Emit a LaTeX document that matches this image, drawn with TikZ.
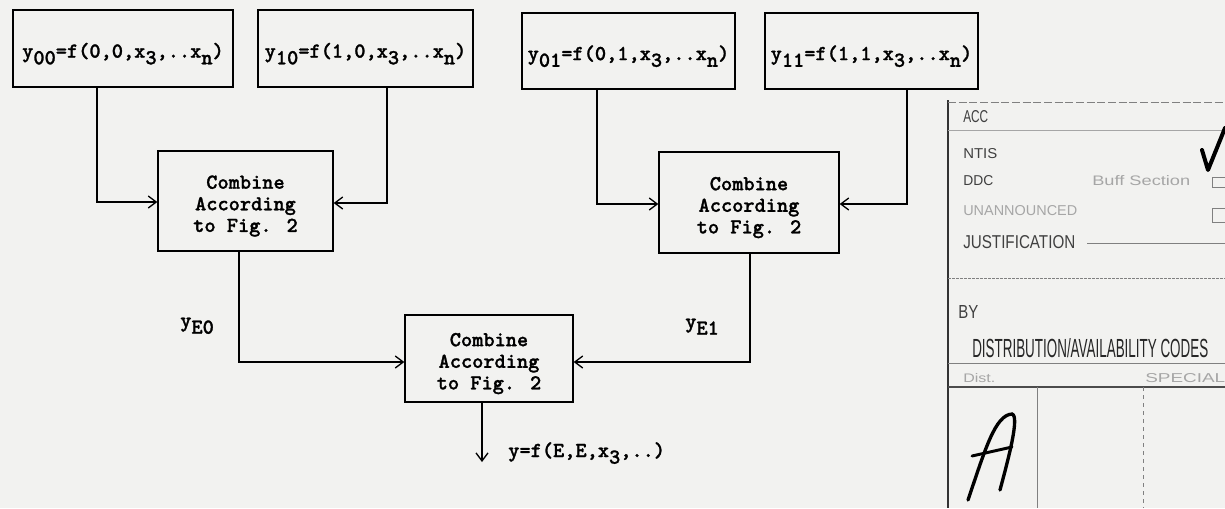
\documentclass[tikz,border=0pt]{standalone}
\usepackage{fontspec}
\usetikzlibrary{arrows.meta,calc}
\setsansfont{Liberation Sans}
\newfontfamily\tw{lmmonolt10-bold.otf}[FakeBold=1.2]
\definecolor{paper}{RGB}{242,242,240}
\newcommand\lo[1]{\raisebox{-5pt}{#1}}
\newcommand\dn[1]{\raisebox{-3.75pt}[\height][\depth]{\begin{tabular}{@{}c@{}}#1\end{tabular}}}
\begin{document}
\begin{tikzpicture}[x=0.75pt,y=-0.75pt,
  box/.style={draw,line width=1pt,inner sep=0pt,align=center,font=\tw\fontsize{16}{16.2}\selectfont},
  lbl/.style={inner sep=0pt,anchor=base west,font=\tw\fontsize{16}{16.2}\selectfont},
  conn/.style={line width=1pt},
  arr/.style={conn,-{Straight Barb[length=6pt,width=9pt,line width=1pt]}},
  stamp/.style={line width=0.7pt,draw=black!50},
  st/.style={inner sep=0pt,anchor=base west,text=black!75,font=\sffamily},
  stf/.style={st,text=black!35}]
\fill[paper] (0,0) rectangle (1225,508);
\useasboundingbox (0,0) rectangle (1225,508);

% input boxes
\node[box,minimum width=165pt,minimum height=57.75pt] (b1) at (123,48.5) {\dn{y\lo{00}=f(0,0,x\lo{3},..x\lo{n})}};
\node[box,minimum width=161.25pt,minimum height=57.75pt] (b2) at (365.5,48.5) {\dn{y\lo{10}=f(1,0,x\lo{3},..x\lo{n})}};
\node[box,minimum width=159.75pt,minimum height=57pt] (b3) at (628.5,51) {\dn{y\lo{01}=f(0,1,x\lo{3},..x\lo{n})}};
\node[box,minimum width=159.75pt,minimum height=57pt] (b4) at (871.5,51) {\dn{y\lo{11}=f(1,1,x\lo{3},..x\lo{n})}};

% combine boxes
\node[box,minimum width=131.25pt,minimum height=75pt] (c1) at (245.5,201) {\dn{Combine\\According\\to Fig. 2}};
\node[box,minimum width=135pt,minimum height=75.75pt] (c2) at (749,202.5) {\dn{Combine\\According\\to Fig. 2}};
\node[box,minimum width=126pt,minimum height=65.25pt] (c3) at (489,358.5) {\dn{Combine\\According\\to Fig. 2}};

% connectors
\coordinate (k1) at (97,202);
\coordinate (k2) at (387,203);
\coordinate (k3) at (597,204);
\coordinate (k4) at (907,204);
\coordinate (k5) at (239,362);
\coordinate (k6) at (750,362);
\coordinate (k7) at (482,462);
\draw[arr] (b1.south -| k1) -- (k1) -- (k1 -| c1.west);
\draw[arr] (b2.south -| k2) -- (k2) -- (k2 -| c1.east);
\draw[arr] (b3.south -| k3) -- (k3) -- (k3 -| c2.west);
\draw[arr] (b4.south -| k4) -- (k4) -- (k4 -| c2.east);
\draw[arr] (c1.south -| k5) -- (k5) -- (k5 -| c3.west);
\draw[arr] (c2.south -| k6) -- (k6) -- (k6 -| c3.east);
\draw[arr] (c3.south -| k7) -- (k7);

% labels
\node[lbl] (le0) at (180,327) {y\lo{E0}};
\node[lbl] (le1) at (685,328) {y\lo{E1}};
\node[lbl] (lout) at (508,457) {y=f(E,E,x\lo{3},..)};

% accession stamp
\draw[line width=1.2pt,black!80] (948,100) -- (948,508);
\draw[stamp,dash pattern=on 6pt off 2pt] (948,102) -- (1225,102);
\draw[stamp,draw=black!35] (948,130) -- (1225,130);
\draw[stamp] (1087,243) -- (1225,243);
\draw[stamp,dash pattern=on 2pt off 1pt] (948,278) -- (1225,278);
\draw[stamp] (948,363) -- (1225,363);
\draw[line width=1pt,black!70] (948,387) -- (1225,387);
\draw[stamp] (1037,387) -- (1037,508);
\draw[stamp,dashed] (1143,387) -- (1143,508);
\draw[stamp] (1212,177) rectangle (1228,187);
\draw[stamp] (1212,208) rectangle (1228,222);
\draw[line width=3pt,line cap=round,line join=round] (1202,150) -- (1208,170) -- (1225,128);
\draw[line width=2.5pt,line cap=round] (968,500) .. controls (985,450) and (995,415) .. (1012,414) .. controls (1020,416) and (1008,460) .. (1000,490);
\draw[line width=2.2pt,line cap=round] (972,456) -- (1012,447);

\node[st] (s1) at (963,122) {\resizebox{18.75pt}{9pt}{ACC}};
\node[st] (s2) at (963,158) {\resizebox{25.5pt}{7.5pt}{NTIS}};
\node[st] (s3) at (963,185) {\resizebox{22.5pt}{7.5pt}{DDC}};
\node[stf] (s4) at (1092,185) {\resizebox{73.5pt}{7.5pt}{Buff Section}};
\node[stf] (s5) at (963,215) {\resizebox{85.5pt}{7.5pt}{UNANNOUNCED}};
\node[st] (s6) at (963,248) {\resizebox{84pt}{9.75pt}{JUSTIFICATION}};
\node[st] (s7) at (958,318) {\resizebox{15pt}{9.75pt}{BY}};
\node[st,text=black!85] (s8) at (972,357) {\resizebox{177pt}{14.25pt}{DISTRIBUTION/AVAILABILITY CODES}};
\node[stf] (s9) at (963,382) {\resizebox{24pt}{6.75pt}{Dist.}};
\node[stf] (s10) at (1145,382) {\resizebox{60pt}{6.75pt}{SPECIAL}};
\end{tikzpicture}
\end{document}
